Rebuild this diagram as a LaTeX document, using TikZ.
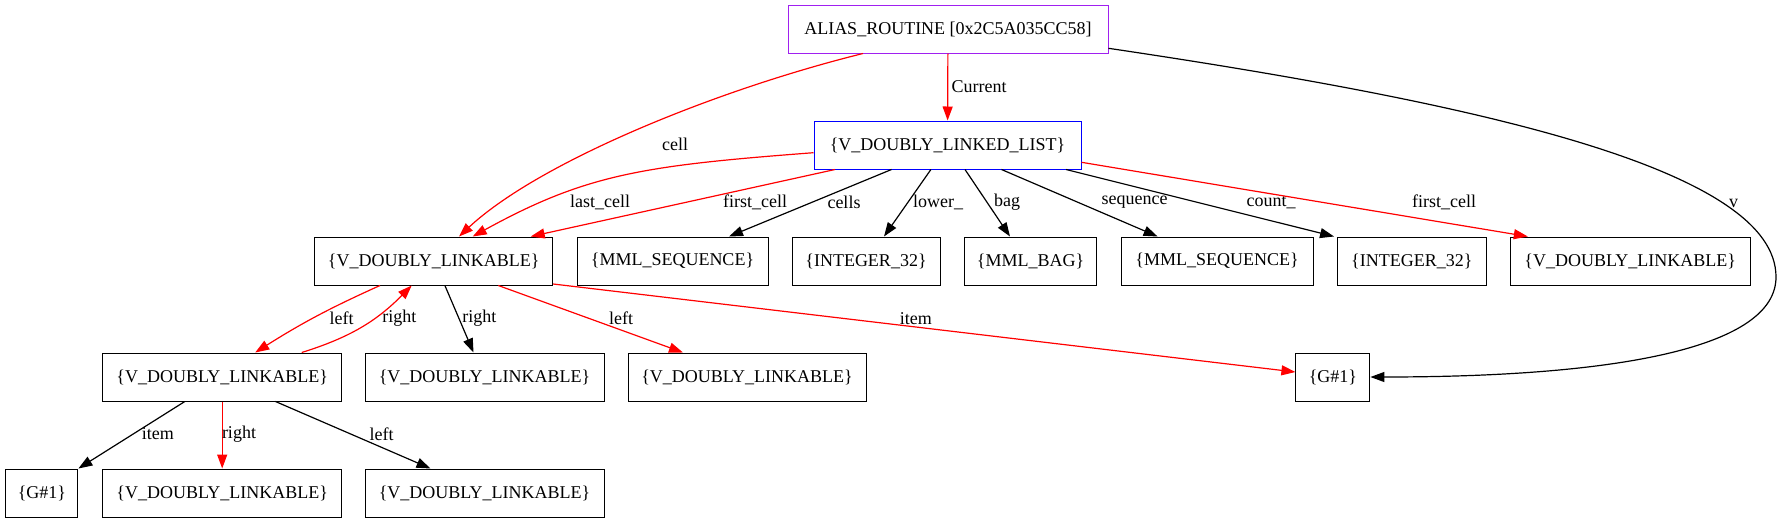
\documentclass[tikz,border=0pt]{standalone}
\usepackage{fontspec}
\setmainfont{Liberation Serif}
\usetikzlibrary{arrows.meta}
\definecolor{gvpurple}{HTML}{A020F0}
\begin{document}
\begin{tikzpicture}[x=1pt,y=-1pt,
  box/.style={draw=black,line width=1pt,rectangle,minimum height=48pt,inner sep=0pt,font=\fontsize{18}{20}\selectfont},
  lbl/.style={inner sep=0pt,font=\fontsize{18}{20}\selectfont},
  bedge/.style={line width=1.2pt,draw=black,-{Triangle[length=14pt,width=10pt]}},
  redge/.style={line width=1.2pt,draw=red,-{Triangle[length=14pt,width=10pt]}}]
\useasboundingbox (0,0) rectangle (1781,523);
% nodes
\node[box,draw=gvpurple,minimum width=320pt] (alias) at (948,29) {ALIAS\_ROUTINE [0x2C5A035CC58]};
\node[box,draw=blue,minimum width=267pt] (list) at (947.5,145) {\{V\_DOUBLY\_LINKED\_LIST\}};
\node[box,minimum width=238pt] (vdl1) at (433.7,261) {\{V\_DOUBLY\_LINKABLE\}};
\node[box,minimum width=191pt] (mseq1) at (672.5,261) {\{MML\_SEQUENCE\}};
\node[box,minimum width=148pt] (int1) at (866,261) {\{INTEGER\_32\}};
\node[box,minimum width=132.5pt] (bag) at (1030.6,261) {\{MML\_BAG\}};
\node[box,minimum width=192pt] (mseq2) at (1217,261) {\{MML\_SEQUENCE\}};
\node[box,minimum width=148.5pt] (int2) at (1411.8,261) {\{INTEGER\_32\}};
\node[box,minimum width=240pt] (vdlr) at (1630.2,261) {\{V\_DOUBLY\_LINKABLE\}};
\node[box,minimum width=239pt] (vdl2) at (222.2,377) {\{V\_DOUBLY\_LINKABLE\}};
\node[box,minimum width=239pt] (vdl3) at (484.5,377) {\{V\_DOUBLY\_LINKABLE\}};
\node[box,minimum width=238pt] (vdl4) at (747,377) {\{V\_DOUBLY\_LINKABLE\}};
\node[box,minimum width=74pt] (g1) at (1332.9,377) {\{G\#1\}};
\node[box,minimum width=72pt] (g0) at (41.9,493) {\{G\#1\}};
\node[box,minimum width=239pt] (vdl5) at (222.2,493) {\{V\_DOUBLY\_LINKABLE\}};
\node[box,minimum width=239pt] (vdl6) at (484.5,493) {\{V\_DOUBLY\_LINKABLE\}};
\coordinate (vturn) at (1776,277);
% edges
\draw[redge] (alias) -- (list) node[lbl,anchor=west] (lcur) at (951,87) {Current};
\draw[redge] ([xshift=-85pt]alias.south) .. controls +(-145.7,36) and +(80.3,-74.8) .. ([xshift=25.3pt]vdl1.north) node[lbl] (lcell) at (675,144) {cell};
\draw[bedge] ([yshift=-19.3pt]alias.east) .. controls +(375.5,55.7) and +(0,-107) .. (vturn) .. controls +(0,70) and +(250,0) .. (g1.east) node[lbl] (lv) at (1733.5,203.3) {v};
\draw[redge] ([yshift=-7.7pt]list.west) .. controls +(-169.5,12.9) and +(113.8,-62.7) .. ([xshift=39pt]vdl1.north) node[lbl] (llast) at (600,202.3) {last\_cell};
\draw[redge] ([xshift=-112.5pt]list.south) -- ([xshift=97pt]vdl1.north) node[lbl] (lfirst) at (755,202.3) {first\_cell};
\draw[bedge] ([xshift=-56pt]list.south) -- ([xshift=56.5pt]mseq1.north) node[lbl] (lcells) at (844,202.3) {cells};
\draw[bedge] ([xshift=-16.6pt]list.south) -- ([xshift=18pt]int1.north) node[lbl] (llower) at (938,202.3) {lower\_};
\draw[bedge] ([xshift=17.5pt]list.south) -- ([xshift=-20.6pt]bag.north) node[lbl] (lbag) at (1007,202.3) {bag};
\draw[bedge] ([xshift=54pt]list.south) -- ([xshift=-59.4pt]mseq2.north) node[lbl] (lseq) at (1134.5,202.3) {sequence};
\draw[bedge] ([xshift=118.5pt]list.south) -- ([xshift=-3pt]int2.north west) node[lbl] (lcount) at (1271,202.3) {count\_};
\draw[redge] ([yshift=-17.3pt]list.east) -- ([xshift=-102.4pt]vdlr.north) node[lbl] (lfirst2) at (1444,202.3) {first\_cell};
\draw[redge] ([xshift=-53.7pt]vdl1.south) to[bend right=4] ([xshift=33pt]vdl2.north) node[lbl] (lleft1) at (341.7,318.3) {left};
\draw[redge] ([xshift=79.5pt]vdl2.north) to[bend right=14] ([xshift=-22pt]vdl1.south) node[lbl] (lright1) at (399.3,318.3) {right};
\draw[bedge] ([xshift=11.2pt]vdl1.south) -- ([xshift=-11pt]vdl3.north) node[lbl] (lright2) at (479.3,318.3) {right};
\draw[redge] ([xshift=64.6pt]vdl1.south) -- ([xshift=-64pt]vdl4.north) node[lbl] (lleft2) at (621,318.3) {left};
\draw[redge] ([yshift=1.5pt]vdl1.south east) -- ([yshift=5pt]g1.west) node[lbl] (litem1) at (915.9,318.3) {item};
\draw[bedge] ([xshift=-37.4pt]vdl2.south) -- (g0.north east) node[lbl] (litem2) at (157.9,434) {item};
\draw[redge] (vdl2) -- (vdl5) node[lbl] (lright3) at (239,434) {right};
\draw[bedge] ([xshift=53.3pt]vdl2.south) -- ([xshift=-54pt]vdl6.north) node[lbl] (lleft3) at (381.7,434) {left};
\end{tikzpicture}
\end{document}
